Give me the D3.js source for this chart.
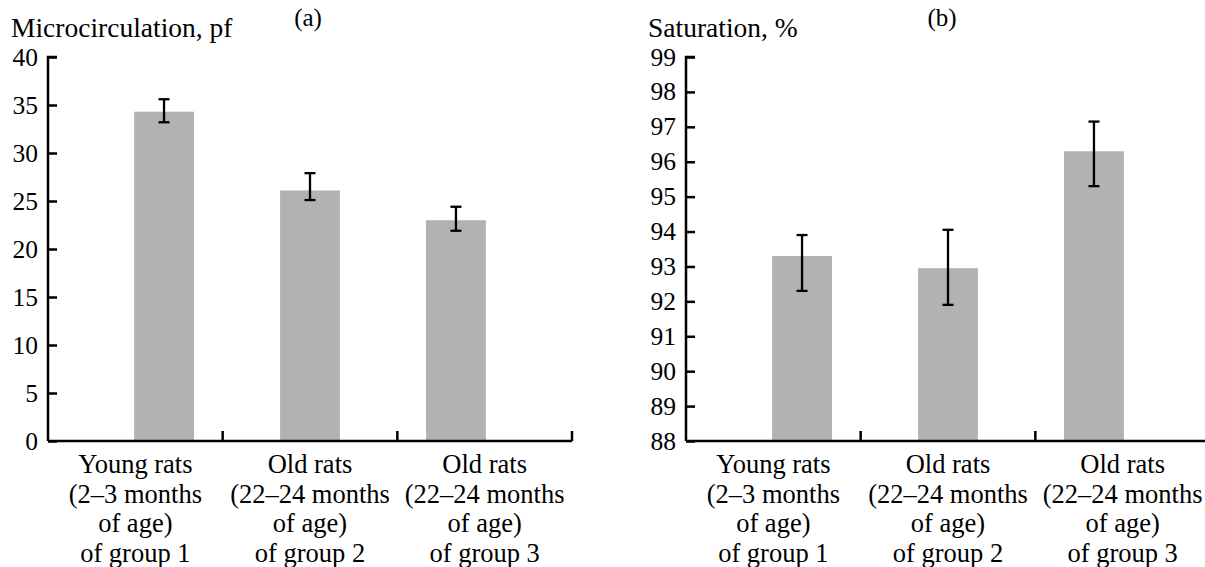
<!DOCTYPE html>
<html>
<head>
<meta charset="utf-8">
<script src="https://cdn.jsdelivr.net/npm/d3@7"></script>
<style>
  body { margin: 0; background: #fff; }
  svg { display: block; }
  .serif { font-family: 'Liberation Serif', 'Tinos', 'Times New Roman', serif; }
</style>
</head>
<body>
<script>
// categories (label lines)
var categories = ["g1", "g2", "g3"];
var catLines = [
    ["Young rats", "(2\u20133 months", "of age)", "of group 1"],
    ["Old rats", "(22\u201324 months", "of age)", "of group 2"],
    ["Old rats", "(22\u201324 months", "of age)", "of group 3"]
];

// panel (a) microcirculation, pf
var microMean = [34.3, 26.1, 23.0];
var microHigh = [35.6, 27.9, 24.4];
var microLow = [33.2, 25.1, 21.9];
var microTicks = [0, 5, 10, 15, 20, 25, 30, 35, 40];

// panel (b) saturation, %
var satMean = [93.3, 92.95, 96.3];
var satHigh = [93.9, 94.05, 97.15];
var satLow = [92.3, 91.9, 95.3];
var satTicks = [88, 89, 90, 91, 92, 93, 94, 95, 96, 97, 98, 99];

var svg = d3.select("body").append("svg")
    .attr("width", 1205)
    .attr("height", 567);

function addText(x, y, txt, size, anchor){
    return svg.append("text")
        .attr("class", "serif")
        .attr("x", x)
        .attr("y", y)
        .attr("text-anchor", anchor || "start")
        .style("font-size", size + "px")
        .text(txt);
}

function panel(opt){
    var x = d3.scaleBand().domain(categories).range([opt.x0, opt.x0 + 524]).padding(0.59);
    var xs = d3.scaleBand().domain(categories).range([opt.x0, opt.x0 + 524]);
    var y = d3.scaleLinear().domain(opt.domain).range([441, 57]);

    svg.append("g").selectAll("rect")
        .data(opt.mean)
        .enter()
        .append("rect")
        .attr("x", function(d,i){return x(categories[i]);})
        .attr("width", x.bandwidth())
        .attr("y", function(d){return y(d);})
        .attr("height", function(d){return 441 - y(d);})
        .attr("fill", "#b2b2b2");

    // error bars
    var eb = svg.append("g")
        .attr("stroke", "#000")
        .attr("stroke-width", 2.3);
    opt.mean.forEach(function(d,i){
        var cx = x(categories[i]) + x.bandwidth()/2;
        eb.append("line").attr("x1", cx).attr("x2", cx)
            .attr("y1", y(opt.high[i])).attr("y2", y(opt.low[i]));
        eb.append("line").attr("x1", cx - 5.5).attr("x2", cx + 5.5)
            .attr("y1", y(opt.high[i])).attr("y2", y(opt.high[i]));
        eb.append("line").attr("x1", cx - 5.5).attr("x2", cx + 5.5)
            .attr("y1", y(opt.low[i])).attr("y2", y(opt.low[i]));
    });

    // y axis, ticks inward
    var yAxis = d3.axisRight(y).tickValues(opt.ticks).tickSize(9).tickFormat("");
    var ya = svg.append("g").attr("transform", "translate(" + opt.x0 + ",0)").call(yAxis);
    ya.select(".domain").attr("d", "M0," + y(opt.domain[0]) + "V" + y(opt.domain[1]) + "H9");
    ya.selectAll("line, path").attr("stroke", "#000").attr("stroke-width", 2.5);

    opt.ticks.forEach(function(t){
        addText(opt.x0 - 10, y(t) + 8.5, String(t), 25.5, "end");
    });

    // x axis with category separators pointing up
    svg.append("line")
        .attr("x1", opt.x0).attr("x2", opt.x0 + 524)
        .attr("y1", 441).attr("y2", 441)
        .attr("stroke", "#000").attr("stroke-width", 2.5);
    categories.forEach(function(c){
        svg.append("line")
            .attr("x1", xs(c) + xs.bandwidth()).attr("x2", xs(c) + xs.bandwidth())
            .attr("y1", 441).attr("y2", 431)
            .attr("stroke", "#000").attr("stroke-width", 2.5);
    });

    catLines.forEach(function(lines, i){
        lines.forEach(function(s, j){
            addText(xs(categories[i]) + xs.bandwidth()/2, 473 + j*29.5, s, 26.5, "middle");
        });
    });

    addText(opt.titleX, 37, opt.title, 27.5);
    addText(opt.letterX, 26, opt.letter, 25, "middle");
}

panel({x0: 48, domain: [0, 40], ticks: microTicks, mean: microMean, high: microHigh, low: microLow,
       title: "Microcirculation, pf", titleX: 11, letter: "(a)", letterX: 308});
panel({x0: 686, domain: [88, 99], ticks: satTicks, mean: satMean, high: satHigh, low: satLow,
       title: "Saturation, %", titleX: 648, letter: "(b)", letterX: 942});
</script>
</body>
</html>
